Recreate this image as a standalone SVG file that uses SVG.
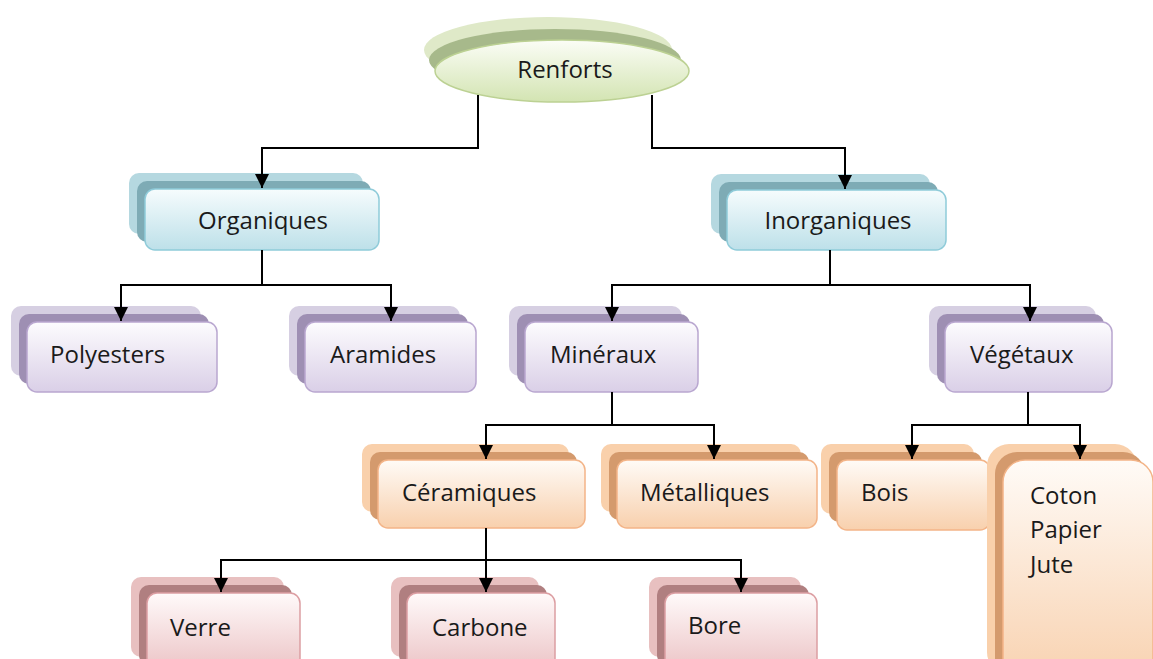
<svg xmlns="http://www.w3.org/2000/svg" width="1153" height="659" viewBox="0 0 1153 659">
<defs>
<linearGradient id="gGreen" x1="0" y1="0" x2="0" y2="1"><stop offset="0" stop-color="#fbfdf6"/><stop offset="1" stop-color="#d3e4b2"/></linearGradient>
<linearGradient id="gBlue" x1="0" y1="0" x2="0" y2="1"><stop offset="0" stop-color="#f6fcfd"/><stop offset="1" stop-color="#bde0e9"/></linearGradient>
<linearGradient id="gPurple" x1="0" y1="0" x2="0" y2="1"><stop offset="0" stop-color="#fdfcfe"/><stop offset="1" stop-color="#dacfe7"/></linearGradient>
<linearGradient id="gOrange" x1="0" y1="0" x2="0" y2="1"><stop offset="0" stop-color="#fffbf7"/><stop offset="1" stop-color="#f8d0ad"/></linearGradient>
<linearGradient id="gRed" x1="0" y1="0" x2="0" y2="1"><stop offset="0" stop-color="#fffafa"/><stop offset="1" stop-color="#ebc2c4"/></linearGradient>
<marker id="arr" markerUnits="userSpaceOnUse" markerWidth="14" markerHeight="14" viewBox="0 0 14 14" refX="14" refY="7" orient="auto">
<path d="M0,0 L14,7 L0,14 Z" fill="#000"/>
</marker>
</defs>
<style>
text{font-family:"Open Sans","Liberation Sans",sans-serif;font-size:24px;fill:#1a1a1a}
.edge{fill:none;stroke:#000;stroke-width:2}
.blue .b{fill:#b5d8e0}.blue .m{fill:#7eabb5}.blue .f{fill:url(#gBlue);stroke:#8fcbd9;stroke-width:1.5}
.purple .b{fill:#d6cfe2}.purple .m{fill:#9e8fb3}.purple .f{fill:url(#gPurple);stroke:#b9a7d0;stroke-width:1.5}
.orange .b{fill:#f9d0ab}.orange .m{fill:#d49a6d}.orange .f{fill:url(#gOrange);stroke:#f3b488;stroke-width:1.5}
.red .b{fill:#e8c0c0}.red .m{fill:#b07f80}.red .f{fill:url(#gRed);stroke:#dc9ea2;stroke-width:1.5}
</style>
<rect width="1153" height="659" fill="#fff"/>

<g id="renforts">
<ellipse cx="548" cy="50" rx="124" ry="33" fill="#dfe9c8"/>
<ellipse cx="555" cy="60" rx="126" ry="31" fill="#a7b98b"/>
<ellipse cx="562" cy="71" rx="127" ry="31" fill="url(#gGreen)" stroke="#bcd193" stroke-width="1.5"/>
<text x="565" y="78" text-anchor="middle">Renforts</text>
</g>

<g id="organiques" class="blue">
<rect class="b" x="129" y="173" width="234" height="61" rx="10"/>
<rect class="m" x="137" y="181" width="234" height="61" rx="10"/>
<rect class="f" x="145" y="189" width="234" height="61" rx="10"/>
<text x="263" y="229" text-anchor="middle">Organiques</text>
</g>
<g id="inorganiques" class="blue">
<rect class="b" x="711" y="174" width="219" height="60" rx="10"/>
<rect class="m" x="719" y="182" width="219" height="60" rx="10"/>
<rect class="f" x="727" y="190" width="219" height="60" rx="10"/>
<text x="838" y="229" text-anchor="middle">Inorganiques</text>
</g>

<g id="polyesters" class="purple">
<rect class="b" x="11" y="306" width="190" height="70" rx="10"/>
<rect class="m" x="19" y="314" width="190" height="70" rx="10"/>
<rect class="f" x="27" y="322" width="190" height="70" rx="10"/>
<text x="50" y="363">Polyesters</text>
</g>
<g id="aramides" class="purple">
<rect class="b" x="289" y="306" width="171" height="70" rx="10"/>
<rect class="m" x="297" y="314" width="171" height="70" rx="10"/>
<rect class="f" x="305" y="322" width="171" height="70" rx="10"/>
<text x="330" y="363">Aramides</text>
</g>
<g id="mineraux" class="purple">
<rect class="b" x="509" y="306" width="173" height="70" rx="10"/>
<rect class="m" x="517" y="314" width="173" height="70" rx="10"/>
<rect class="f" x="525" y="322" width="173" height="70" rx="10"/>
<text x="550" y="363">Minéraux</text>
</g>
<g id="vegetaux" class="purple">
<rect class="b" x="929" y="306" width="167" height="70" rx="10"/>
<rect class="m" x="937" y="314" width="167" height="70" rx="10"/>
<rect class="f" x="945" y="322" width="167" height="70" rx="10"/>
<text x="970" y="363">Végétaux</text>
</g>

<g id="ceramiques" class="orange">
<rect class="b" x="362" y="444" width="207" height="68" rx="10"/>
<rect class="m" x="370" y="452" width="207" height="68" rx="10"/>
<rect class="f" x="378" y="460" width="207" height="68" rx="10"/>
<text x="402" y="501">Céramiques</text>
</g>
<g id="metalliques" class="orange">
<rect class="b" x="601" y="444" width="200" height="68" rx="10"/>
<rect class="m" x="609" y="452" width="200" height="68" rx="10"/>
<rect class="f" x="617" y="460" width="200" height="68" rx="10"/>
<text x="640" y="501">Métalliques</text>
</g>
<g id="bois" class="orange">
<rect class="b" x="821" y="444" width="153" height="70" rx="10"/>
<rect class="m" x="829" y="452" width="153" height="70" rx="10"/>
<rect class="f" x="837" y="460" width="153" height="70" rx="10"/>
<text x="861" y="501">Bois</text>
</g>
<g id="coton" class="orange">
<rect class="b" x="987" y="444" width="150" height="230" rx="22"/>
<rect class="m" x="995" y="452" width="150" height="230" rx="22"/>
<rect class="f" x="1003" y="460" width="150" height="230" rx="22"/>
<text x="1030" y="504">Coton</text>
<text x="1030" y="538">Papier</text>
<text x="1030" y="573">Jute</text>
</g>

<g id="verre" class="red">
<rect class="b" x="131" y="577" width="153" height="80" rx="10"/>
<rect class="m" x="139" y="585" width="153" height="80" rx="10"/>
<rect class="f" x="147" y="593" width="153" height="80" rx="10"/>
<text x="170" y="636">Verre</text>
</g>
<g id="carbone" class="red">
<rect class="b" x="391" y="577" width="148" height="80" rx="10"/>
<rect class="m" x="399" y="585" width="148" height="80" rx="10"/>
<rect class="f" x="407" y="593" width="148" height="80" rx="10"/>
<text x="432" y="636">Carbone</text>
</g>
<g id="bore" class="red">
<rect class="b" x="649" y="577" width="152" height="80" rx="10"/>
<rect class="m" x="657" y="585" width="152" height="80" rx="10"/>
<rect class="f" x="665" y="593" width="152" height="80" rx="10"/>
<text x="688" y="634">Bore</text>
</g>

<g id="connectors">
<path class="edge" d="M478,95 V148 H262 V188" marker-end="url(#arr)"/>
<path class="edge" d="M652,95 V148 H845 V189" marker-end="url(#arr)"/>
<path class="edge" d="M262,250 V285 H121 V321" marker-end="url(#arr)"/>
<path class="edge" d="M262,285 H391 V321" marker-end="url(#arr)"/>
<path class="edge" d="M830,250 V285 H612 V321" marker-end="url(#arr)"/>
<path class="edge" d="M830,285 H1030 V321" marker-end="url(#arr)"/>
<path class="edge" d="M612,392 V425 H486 V459" marker-end="url(#arr)"/>
<path class="edge" d="M612,425 H714 V459" marker-end="url(#arr)"/>
<path class="edge" d="M1028,392 V425 H912 V459" marker-end="url(#arr)"/>
<path class="edge" d="M1028,425 H1080 V459" marker-end="url(#arr)"/>
<path class="edge" d="M486,528 V560 H221 V592" marker-end="url(#arr)"/>
<path class="edge" d="M486,560 V592" marker-end="url(#arr)"/>
<path class="edge" d="M486,560 H741 V592" marker-end="url(#arr)"/>
</g>
</svg>
